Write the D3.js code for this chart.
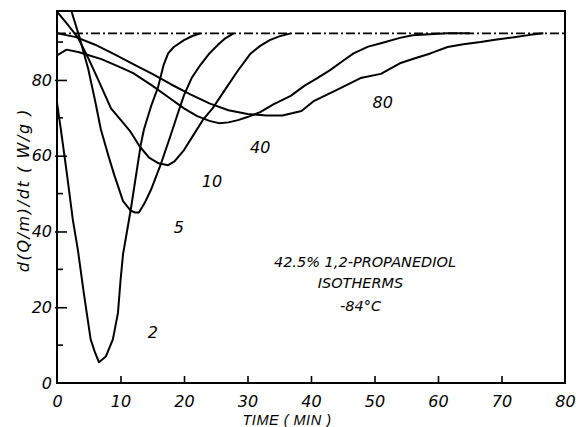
<!DOCTYPE html>
<html><head><meta charset="utf-8">
<script src="https://cdn.jsdelivr.net/npm/d3@7"></script>
<style>
html,body{margin:0;padding:0;background:#fff;}
svg text{font-family:"DejaVu Sans",sans-serif;font-style:oblique;fill:#000;}
</style></head>
<body><svg id="c" width="576" height="427"></svg>
<script>
// ---- data ----
const xTicks = [0,10,20,30,40,50,60,70,80];
const yTicks = [0,20,40,60,80];
const yMinorTicks = [10,30,50,70,90];
const plateau = 92.3;

const t2 = [0,0.6,1.5,2.5,3.3,4.2,5.3,6.0,6.6,7.7,8.8,9.6,10.0,10.4,11.6,13.2,13.7,14.8,15.9,16.8,17.5,18.4,20,21.3,22.6];
const v2 = [74,67,56,43,35,24,11.5,8,5.5,7,11.5,18.5,27,34,45.6,63,67,73,78,84,87,88.7,90.5,91.6,92.3];

const t5 = [2.3,3.5,4.9,6.0,6.9,8.0,9.0,10.4,11.6,12.3,12.9,13.8,14.8,16.4,17.9,19.0,20.0,21.2,22.6,24.0,25.3,26.5,27.8];
const v5 = [98,91.5,83,74.5,67,60.5,55,48,45.5,45,45,47.5,51,58,65.4,71,76,80.5,84,87,89.2,91,92.3];

const t10 = [0,1.5,3.3,5,6.5,8.5,10,11.5,13,14.5,16,17.5,18.5,20,21.5,23,24.5,26.5,28.5,30.5,32,33.5,35,36.8];
const v10 = [98,95,91.2,85.5,80,72.5,69.5,66.5,62.5,59.5,58,57.5,58.5,61.5,65.5,69.5,72.5,77.5,82.5,87,89,90.5,91.5,92.3];

const t40 = [0,1.5,3.5,5,7,10,12,15,17.5,20,22,24,25.5,27,28.5,30,32,34,36.8,39,41,43,45,46.7,49,51,54,56,58,61.5,65];
const v40 = [86.5,88,87.3,86.5,85.5,83.3,81.8,78.5,75.5,72.5,70.5,69.2,68.6,68.8,69.4,70.2,71.5,73.5,75.8,78.5,80.5,82.6,85,87,88.8,89.7,91.1,91.8,92,92.3,92.3];

const t80 = [0,3,6,9,12,15,18,21,24,27,30,33,35.5,38.5,40.5,44,47.8,51,54,56.5,58.8,61.5,64,66.7,69,72,74.5,76.6];
const v80 = [92.3,91.3,89.3,86.8,84.2,81.6,78.8,76.2,73.8,72,71,70.6,70.6,71.8,74.5,77.3,80.5,81.6,84.4,85.8,87,88.7,89.4,90,90.6,91.3,91.9,92.3];

const curveLabels = ["2","5","10","40","80"];
const labelT = [15.1,19.2,24.4,32,51.3];
const labelV = [11.9,39.6,51.7,60.7,72.6];

const noteLines = ["42.5% 1,2-PROPANEDIOL","ISOTHERMS","-84°C"];
const noteT = [48.5,47.8,47.8];
const noteV = [30.6,25.1,19.0];

// ---- drawing ----
const svg = d3.select("#c");
const x = d3.scaleLinear().domain([0,80]).range([57,565]);
const y = d3.scaleLinear().domain([0,98.2]).range([383,11]);

const series = [[t2,v2],[t5,v5],[t10,v10],[t40,v40],[t80,v80]];
const line = d3.line().x(d=>x(d[0])).y(d=>y(d[1])).curve(d3.curveLinear);

svg.append("defs").append("clipPath").attr("id","pc")
  .append("rect").attr("x",x(0)).attr("y",y(98.2)).attr("width",x(80)-x(0)).attr("height",y(0)-y(98.2));

// plateau dash-dot line
svg.append("line").attr("x1",x(0)).attr("x2",x(80)).attr("y1",y(plateau)).attr("y2",y(plateau))
  .attr("stroke","#000").attr("stroke-width",1.6).attr("stroke-dasharray","9,3,2,3");

const g = svg.append("g").attr("clip-path","url(#pc)");
series.forEach(([ts,vs])=>{
  g.append("path").datum(ts.map((t,i)=>[t,vs[i]])).attr("d",line)
    .attr("fill","none").attr("stroke","#000").attr("stroke-width",2).attr("stroke-linejoin","round");
});

// frame
svg.append("rect").attr("x",x(0)).attr("y",y(98.2)).attr("width",x(80)-x(0)).attr("height",y(0)-y(98.2))
  .attr("fill","none").attr("stroke","#000").attr("stroke-width",2);

// axes (ticks inward)
const xAxis = d3.axisBottom(x).tickValues(xTicks).tickSize(-7).tickPadding(12).tickFormat(d3.format("d"));
const gx = svg.append("g").attr("transform",`translate(0,${y(0)})`).call(xAxis);
gx.select(".domain").remove();
gx.selectAll(".tick line").attr("stroke-width",1.6);
gx.selectAll(".tick text").attr("font-size",16).attr("dy","0.75em").attr("y",12);
gx.selectAll(".tick").filter(d=>d===0||d===80).select("line").remove();

const yAxis = d3.axisLeft(y).tickValues(yTicks).tickSize(-10).tickPadding(6).tickFormat(d3.format("d"));
const gy = svg.append("g").attr("transform",`translate(${x(0)},0)`).call(yAxis);
gy.select(".domain").remove();
gy.selectAll(".tick line").attr("x1",-2).attr("stroke-width",1.6);
gy.selectAll(".tick text").attr("font-size",16).attr("x",-5);
gy.selectAll(".tick").filter(d=>d===0).select("line").remove();

svg.append("g").selectAll("line").data(yMinorTicks).join("line")
  .attr("x1",x(0)).attr("x2",x(0)+6).attr("y1",d=>y(d)).attr("y2",d=>y(d))
  .attr("stroke","#000").attr("stroke-width",1.6);

// curve labels
svg.append("g").selectAll("text").data(curveLabels).join("text")
  .attr("x",(d,i)=>x(labelT[i])).attr("y",(d,i)=>y(labelV[i]))
  .attr("text-anchor","middle").attr("font-size",16).text(d=>d);

// note
svg.append("g").selectAll("text").data(noteLines).join("text")
  .attr("x",(d,i)=>x(noteT[i])).attr("y",(d,i)=>y(noteV[i]))
  .attr("text-anchor","middle").attr("font-size",14.5).text(d=>d);

// axis titles
svg.append("text").attr("x",287).attr("y",425).attr("text-anchor","middle")
  .style("font-family","'Liberation Sans',sans-serif").style("font-style","italic")
  .attr("font-size",14.5).attr("letter-spacing",0.5).text("TIME ( MIN )");
svg.append("text").attr("transform","translate(29,190) rotate(-90)").attr("text-anchor","middle")
  .attr("font-size",16).attr("letter-spacing",1.6).text("d(Q/m)/dt  ( W/g )");
</script></body></html>
